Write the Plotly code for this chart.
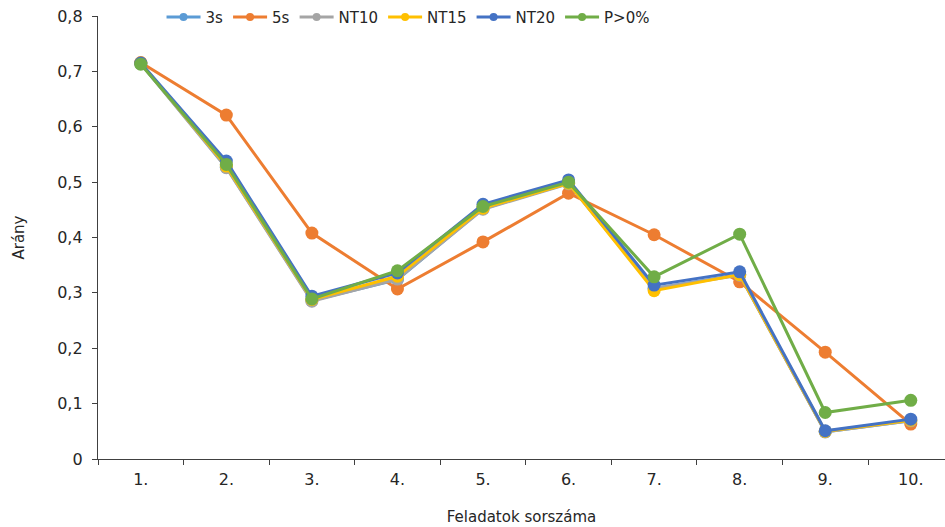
import plotly.graph_objects as go

# Task numbers on the x axis
categories = ["1.", "2.", "3.", "4.", "5.", "6.", "7.", "8.", "9.", "10."]

# Proportions per method
s3 = [0.714, 0.527, 0.286, 0.324, 0.452, 0.498, 0.308, 0.333, 0.049, 0.069]
s5 = [0.716, 0.621, 0.408, 0.307, 0.392, 0.480, 0.405, 0.320, 0.193, 0.063]
nt10 = [0.714, 0.526, 0.285, 0.325, 0.451, 0.497, 0.308, 0.332, 0.049, 0.069]
nt15 = [0.715, 0.529, 0.288, 0.330, 0.453, 0.498, 0.304, 0.333, 0.050, 0.070]
nt20 = [0.715, 0.538, 0.294, 0.336, 0.460, 0.504, 0.314, 0.338, 0.051, 0.072]
p0 = [0.713, 0.532, 0.289, 0.340, 0.456, 0.500, 0.329, 0.406, 0.084, 0.106]

# Y axis ticks (decimal comma)
y_ticks = [0, 0.1, 0.2, 0.3, 0.4, 0.5, 0.6, 0.7, 0.8]
y_tick_labels = ["0", "0,1", "0,2", "0,3", "0,4", "0,5", "0,6", "0,7", "0,8"]

series = [
    ("3s", s3, "#5B9BD5"),
    ("5s", s5, "#ED7D31"),
    ("NT10", nt10, "#A5A5A5"),
    ("NT15", nt15, "#FFC000"),
    ("NT20", nt20, "#4472C4"),
    ("P>0%", p0, "#70AD47"),
]

FONT = "Tahoma, DejaVu Sans, sans-serif"
AXIS = "#404040"

fig = go.Figure()
for name, vals, color in series:
    fig.add_trace(go.Scatter(
        x=categories, y=vals, name=name, mode="lines+markers",
        line=dict(color=color, width=3),
        marker=dict(color=color, size=13),
        showlegend=False,
    ))
# Legend entries with smaller marker glyphs
for name, vals, color in series:
    fig.add_trace(go.Scatter(
        x=[None], y=[None], name=name, mode="lines+markers",
        line=dict(color=color, width=3),
        marker=dict(color=color, size=8),
    ))

fig.update_layout(
    width=945, height=527,
    margin=dict(l=98, r=0, t=16, b=68),
    paper_bgcolor="white", plot_bgcolor="white",
    font=dict(family=FONT, size=15, color="#262626"),
    legend=dict(
        orientation="h", x=0.075, xanchor="left", y=0.997, yanchor="middle",
        font=dict(size=15), bgcolor="rgba(0,0,0,0)", itemwidth=34,
        traceorder="normal",
    ),
    xaxis=dict(
        type="category", range=[-0.5, 9.4],
        showline=True, linecolor=AXIS, linewidth=1.3,
        ticks="outside", tickson="boundaries", ticklen=5, tickcolor=AXIS,
        ticklabelstandoff=6, tickfont=dict(size=16),
        showgrid=False, zeroline=False,
        title=dict(text="Feladatok sorszáma", font=dict(size=15), standoff=23),
    ),
    yaxis=dict(
        range=[0, 0.8], tickvals=y_ticks, ticktext=y_tick_labels,
        showline=True, linecolor=AXIS, linewidth=1.3,
        ticks="outside", ticklen=5, tickcolor=AXIS,
        ticklabelstandoff=6, tickfont=dict(size=16),
        showgrid=False, zeroline=False,
        title=dict(text="Arány", font=dict(size=15), standoff=28),
    ),
)

fig.write_html("out.html")
